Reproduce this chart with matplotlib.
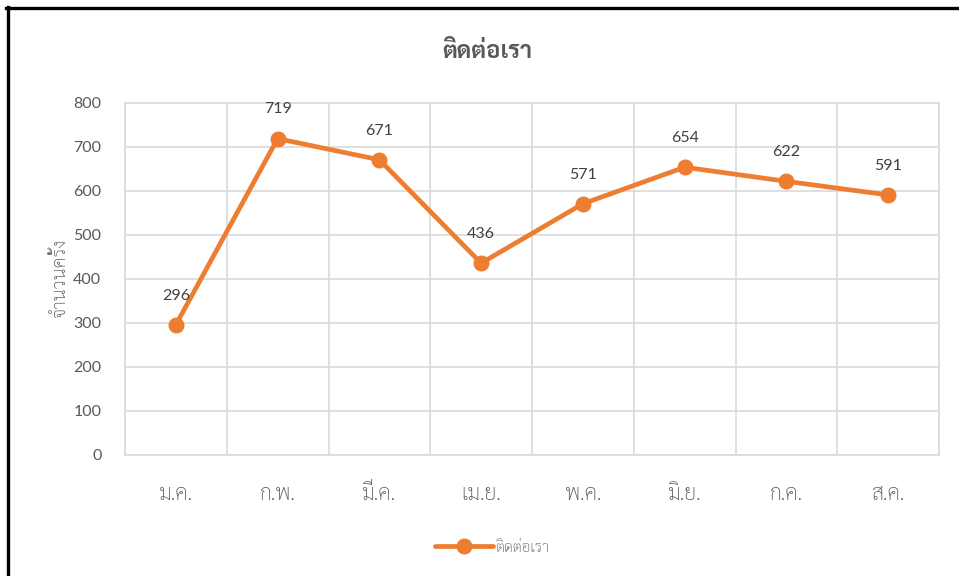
import matplotlib
matplotlib.use("Agg")
import matplotlib.pyplot as plt
from matplotlib.lines import Line2D
import numpy as np

categories = ["ม.ค.", "ก.พ.", "มี.ค.", "เม.ย.", "พ.ค.", "มิ.ย.", "ก.ค.", "ส.ค."]
values = [296, 719, 671, 436, 571, 654, 622, 591]
series_name = "ติดต่อเรา"
title = "ติดต่อเรา"
y_label = "จำนวนครั้ง"
y_ticks = [0, 100, 200, 300, 400, 500, 600, 700, 800]

THAI = ["Sarabun", "Noto Sans Thai Looped", "DejaVu Sans"]
THAI_B = ["Sarabun", "Noto Sans Thai Looped", "DejaVu Sans"]
NUM = ["Lato", "Noto Sans Thai Looped", "DejaVu Sans"]
ORANGE = "#ED7D31"
GRID = "#D9D9D9"
TXT = "#595959"

fig = plt.figure(figsize=(9.59, 5.76), dpi=100)
fig.patch.set_facecolor("white")
ax = fig.add_axes([125/959, 1-455/576, (939-125)/959, (455-103)/576])

x = np.arange(len(categories))
ax.plot(x, values, color=ORANGE, lw=3.4, marker="o", markersize=10.5,
        solid_capstyle="round", label=series_name, zorder=3)

for xi, v in zip(x, values):
    ax.annotate(str(v), (xi, v), xytext=(0, 21), textcoords="offset points",
                ha="center", va="center", fontsize=11.5, color="#404040",
                family=NUM, fontweight="normal")

ax.set_xlim(-0.5, len(categories) - 0.5)
ax.set_ylim(0, 800)
ax.set_yticks(y_ticks)
ax.set_yticklabels([str(t) for t in y_ticks], family=NUM, fontsize=11.5, color=TXT,
                   fontweight="normal")
ax.set_xticks(x)
ax.set_xticklabels(categories, family=THAI, fontsize=15.5, color=TXT,
                   fontweight="light")
ax.set_xticks(np.arange(-0.5, len(categories), 1.0), minor=True)
ax.tick_params(axis="both", which="both", length=0)
ax.tick_params(axis="y", pad=17)
ax.tick_params(axis="x", pad=21)
ax.grid(True, axis="y", which="major", color=GRID, lw=1.2, zorder=0)
ax.grid(True, axis="x", which="minor", color=GRID, lw=1.2, zorder=0)
ax.grid(False, axis="x", which="major")
for s in ax.spines.values():
    s.set_color(GRID)
    s.set_linewidth(1.2)

fig.text(487/959, 1-52/576, title, ha="center", va="center", fontsize=17,
         fontweight="bold", color=TXT, family=THAI_B)
fig.text(60/959, 1-278/576, y_label, ha="center", va="center", rotation=90,
         fontsize=13.5, color=TXT, family=THAI, fontweight="light")

leg = fig.legend(loc="center", bbox_to_anchor=(492/959, 1-548/576), frameon=False,
                 handlelength=3.8, handletextpad=0.1,
                 prop={"family": THAI, "size": 11, "weight": "light"})
for t in leg.get_texts():
    t.set_color(TXT)

fig.add_artist(Line2D([6/959, 1.0], [1-8/576, 1-8/576], color="black", lw=2.4,
                      transform=fig.transFigure))
fig.add_artist(Line2D([7.5/959, 7.5/959], [0, 1-7/576], color="black", lw=2.4,
                      transform=fig.transFigure))

fig.savefig("out.png", dpi=100)
